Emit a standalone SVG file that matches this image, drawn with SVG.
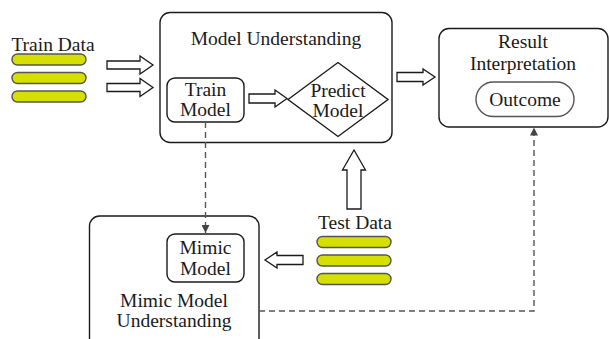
<svg xmlns="http://www.w3.org/2000/svg" width="609" height="339" viewBox="0 0 609 339">
<defs>
<style>
text{font-family:"Liberation Serif","Times New Roman",serif;font-size:19.5px;fill:#1a1a1a;text-anchor:middle}
.box{fill:#fff;stroke:#1a1a1a;stroke-width:1.4}
.bar{fill:#d6e000;stroke:#555;stroke-width:1.4}
.blk{fill:#fff;stroke:#1a1a1a;stroke-width:1.3;stroke-linejoin:miter}
.dash{fill:none;stroke:#555;stroke-width:1.4;stroke-dasharray:6,4}
</style>
<marker id="ah" viewBox="0 0 10 10" refX="10" refY="5" markerWidth="8" markerHeight="8" markerUnits="userSpaceOnUse" orient="auto"><path d="M0,0 L10,5 L0,10 Z" fill="#444"/></marker>
</defs>
<rect width="609" height="339" fill="#fff"/>

<g id="train-data">
<text x="53" y="51">Train Data</text>
<rect class="bar" x="12" y="54" width="74" height="11" rx="5.5"/>
<rect class="bar" x="12" y="72.5" width="74" height="11" rx="5.5"/>
<rect class="bar" x="12" y="91" width="74" height="11" rx="5.5"/>
</g>

<g id="model-understanding">
<rect class="box" x="160" y="12.5" width="232" height="130" rx="10"/>
<text x="276" y="45">Model Understanding</text>
</g>

<g id="train-model">
<rect class="box" x="167" y="78" width="77" height="44" rx="8"/>
<text x="205.5" y="96">Train</text>
<text x="205.5" y="116">Model</text>
</g>

<g id="predict-model">
<path class="box" d="M288,99.5 L338,62.5 L388,99.5 L338,136.5 Z"/>
<text x="338" y="97">Predict</text>
<text x="338" y="117">Model</text>
</g>

<g id="result-interpretation">
<rect class="box" x="439" y="28.5" width="169" height="98.5" rx="10"/>
<text x="523" y="48">Result</text>
<text x="523" y="70">Interpretation</text>
</g>

<g id="outcome">
<rect x="476" y="82" width="98" height="34.5" rx="17.25" fill="#fff" stroke="#555" stroke-width="1.4"/>
<text x="525" y="106">Outcome</text>
</g>

<g id="mimic-model-understanding">
<rect class="box" x="89.5" y="216" width="169.5" height="135" rx="10"/>
<text x="174" y="307">Mimic Model</text>
<text x="174" y="327">Understanding</text>
</g>

<g id="mimic-model">
<rect class="box" x="167" y="234" width="77" height="48" rx="8"/>
<text x="205.5" y="254">Mimic</text>
<text x="205.5" y="275">Model</text>
</g>

<g id="test-data">
<text x="355" y="229">Test Data</text>
<rect class="bar" x="317" y="236.5" width="74" height="11" rx="5.5"/>
<rect class="bar" x="317" y="255" width="74" height="11" rx="5.5"/>
<rect class="bar" x="317" y="273.5" width="74" height="11" rx="5.5"/>
</g>

<g id="connectors">
<path class="blk" d="M107,61 L140,61 L140,56 L153,65 L140,74 L140,69 L107,69 Z"/>
<path class="blk" d="M107,83.5 L140,83.5 L140,78.5 L153,87.5 L140,96.5 L140,91.5 L107,91.5 Z"/>
<path class="blk" d="M249,94 L275,94 L275,90 L287,98.5 L275,107 L275,103 L249,103 Z"/>
<path class="blk" d="M397,72.5 L423,72.5 L423,69 L435,77 L423,85 L423,81.5 L397,81.5 Z"/>
<path class="blk" d="M347,209 L347,170 L342.5,170 L354,150 L365.5,170 L361,170 L361,209 Z"/>
<path class="blk" d="M303,255.5 L277,255.5 L277,252 L265,260 L277,268 L277,264.5 L303,264.5 Z"/>
<path class="dash" d="M205.5,122 L205.5,233" marker-end="url(#ah)"/>
<path class="dash" d="M259,311 L534,311 L534,127.5" marker-end="url(#ah)"/>
</g>
</svg>
